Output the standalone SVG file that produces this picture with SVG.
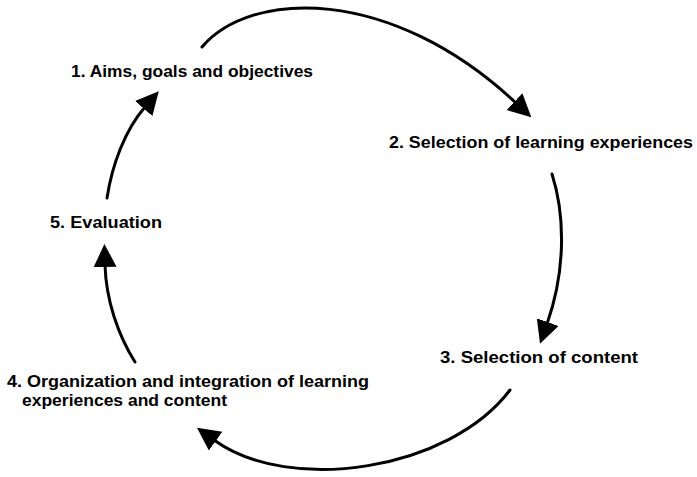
<svg xmlns="http://www.w3.org/2000/svg" width="697" height="477" viewBox="0 0 697 477">
<defs>
<style>
.lbl{font-family:"Liberation Sans",Arial,sans-serif;font-weight:bold;font-size:16.5px;fill:#000}
.arc{fill:none;stroke:#000;stroke-width:3;stroke-linecap:round}
</style>
<marker id="ah" markerUnits="userSpaceOnUse" markerWidth="24" markerHeight="24" refX="2" refY="11.5" orient="auto" viewBox="0 0 24 24">
<path d="M0,0 L23,11.5 L0,23 Z" fill="#000"/>
</marker>
</defs>
<rect width="697" height="477" fill="#fff"/>
<g id="connectors">
<path class="arc" d="M202,47 C250,-10 390,-15 516,103" marker-end="url(#ah)"/>
<path class="arc" d="M552,174 C565,215 566,270 547,324" marker-end="url(#ah)"/>
<path class="arc" d="M510,390 C450,470 290,495 214,440" marker-end="url(#ah)"/>
<path class="arc" d="M135,362 C118,335 106,300 105,265" marker-end="url(#ah)"/>
<path class="arc" d="M107,198 C112,165 125,130 145,107" marker-end="url(#ah)"/>
</g>
<g id="node1"><text class="lbl" x="71" y="77" textLength="242" lengthAdjust="spacingAndGlyphs">1. Aims, goals and objectives</text></g>
<g id="node2"><text class="lbl" x="389" y="148" textLength="304" lengthAdjust="spacingAndGlyphs">2. Selection of learning experiences</text></g>
<g id="node3"><text class="lbl" x="440" y="363" textLength="198" lengthAdjust="spacingAndGlyphs">3. Selection of content</text></g>
<g id="node4">
<text class="lbl" x="7" y="387" textLength="362" lengthAdjust="spacingAndGlyphs">4. Organization and integration of learning</text>
<text class="lbl" x="22" y="406" textLength="205" lengthAdjust="spacingAndGlyphs">experiences and content</text>
</g>
<g id="node5"><text class="lbl" x="50" y="228" textLength="112" lengthAdjust="spacingAndGlyphs">5. Evaluation</text></g>
</svg>
